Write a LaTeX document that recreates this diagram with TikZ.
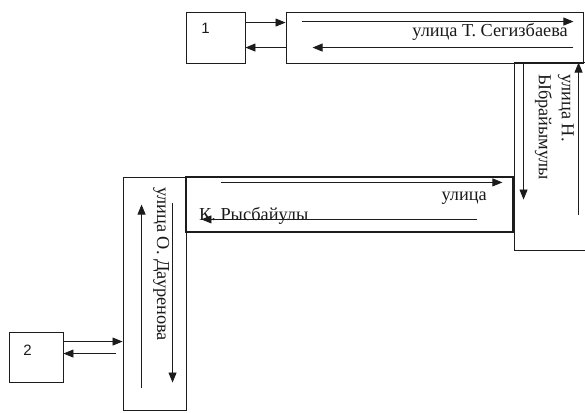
\documentclass[tikz,border=0pt]{standalone}
\usepackage{fontspec}
\setmainfont{Liberation Serif}
\newfontfamily\numfont{Liberation Sans}
\usetikzlibrary{arrows.meta}

\definecolor{rdline}{HTML}{1C1C1C}
\definecolor{rdtext}{HTML}{1A1A1A}

\begin{document}
\begin{tikzpicture}[
  x=1pt, y=-1pt,
  box/.style={draw=rdline, line width=0.9pt, inner sep=0pt},
  street/.style={draw=rdline, line width=0.9pt, inner sep=0pt},
  arr/.style={draw=rdline, line width=0.8pt, -{Triangle[length=10pt,width=8pt]}},
  stname/.style={font=\fontsize{18.3}{23}\selectfont, text=rdtext, inner sep=0pt},
  num/.style={font=\numfont\fontsize{15}{16}\selectfont, text=rdtext, inner sep=0pt},
]
  \useasboundingbox (0,0) rectangle (585,412);

  % points 1 and 2
  \node[box, minimum width=59pt, minimum height=51pt] (b1) at (215.5,37.5) {};
  \node[box, minimum width=54pt, minimum height=50pt] (b2) at (36,357) {};
  \node[num] (n1) at (205.5,28.5) {1};
  \node[num] (n2) at (27.5,350) {2};

  % streets
  \node[street, minimum width=297pt, minimum height=51pt] (sT) at (434.5,37.5) {};   % Сегизбаева
  \node[street, minimum width=72pt, minimum height=188pt] (sN) at (550,156) {};      % Ыбрайымулы
  \node[street, line width=1.2pt, minimum width=327pt, minimum height=55pt] (sK) at (349.5,204.5) {}; % Рысбайулы
  \node[street, minimum width=63pt, minimum height=233pt] (sD) at (154.5,293.5) {};  % Дауренова

  % street names
  \node[stname, anchor=base east] (lT) at (568,37) {улица Т. Сегизбаева};
  \node[stname, rotate=-90, anchor=north west, align=left] (lN) at (574,74) {улица Н.\\Ыбрайымулы};
  \node[stname, anchor=base east] (lK1) at (487,200) {улица};
  \node[stname, anchor=base west] (lK2) at (199,220) {К. Рысбайулы};
  \node[stname, rotate=-90, anchor=base west] (lD) at (157,187) {улица О. Дауренова};

  % exits of point 1
  \draw[arr] ([yshift=-11pt]b1.north east) -- ([yshift=-11pt]sT.north west);
  \draw[arr] ([yshift=-36pt]sT.north west) -- ([yshift=-36pt]b1.north east);

  % exits of point 2
  \coordinate (e2a) at ([yshift=-10pt]b2.north east);
  \coordinate (e2b) at ([yshift=-22pt]b2.north east);
  \draw[arr] (e2a) -- (e2a -| sD.west);
  \draw[arr] ([xshift=-7pt]e2b -| sD.west) -- (e2b);

  % lanes
  \draw[arr] ([xshift=16pt,yshift=-10pt]sT.north west) -- ([xshift=-10pt,yshift=-10pt]sT.north east);
  \draw[arr] ([xshift=-10pt,yshift=-36pt]sT.north east) -- ([xshift=27pt,yshift=-36pt]sT.north west);
  \draw[arr] ([xshift=10pt,yshift=-1pt]sN.north west) -- ([xshift=10pt,yshift=-138pt]sN.north west);
  \draw[arr] ([xshift=65pt,yshift=-153pt]sN.north west) -- ([xshift=65pt,yshift=-1pt]sN.north west);
  \draw[arr] ([xshift=36pt,yshift=-6pt]sK.north west) -- ([xshift=317pt,yshift=-6pt]sK.north west);
  \draw[arr] ([xshift=292pt,yshift=-43pt]sK.north west) -- ([xshift=16pt,yshift=-43pt]sK.north west);
  \draw[arr] ([xshift=19pt,yshift=-211pt]sD.north west) -- ([xshift=19pt,yshift=-28pt]sD.north west);
  \draw[arr] ([xshift=50pt,yshift=-26pt]sD.north west) -- ([xshift=50pt,yshift=-206pt]sD.north west);
\end{tikzpicture}
\end{document}
